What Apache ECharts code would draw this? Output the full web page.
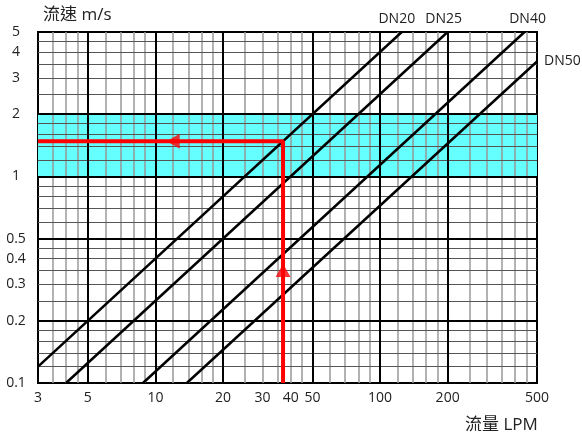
<!DOCTYPE html>
<html>
<head>
<meta charset="utf-8">
<script src="https://cdn.jsdelivr.net/npm/echarts@6/dist/echarts.min.js"></script>
<style>
  html, body { margin: 0; padding: 0; background: #fff; }
  #main { width: 582px; height: 438px; }
</style>
</head>
<body>
<div id="main"></div>
<script>
// 坐标轴刻度标签
var xTicks = [3, 5, 10, 20, 30, 40, 50, 100, 200, 500];
var yTicks = [0.1, 0.2, 0.3, 0.4, 0.5, 1, 2, 3, 4, 5];

// 网格线
var xMajor = [5, 10, 20, 50, 100, 200];
var xMinor = [3.5, 4, 4.5, 6, 7, 8, 9, 12, 14, 16, 18, 25, 30, 35, 40, 45,
  60, 70, 80, 90, 120, 140, 160, 180, 250, 300, 350, 400, 450];
var yMajor = [0.2, 0.5, 1, 2];
var yMinor = [0.12, 0.14, 0.16, 0.18, 0.25, 0.3, 0.35, 0.4, 0.45,
  0.6, 0.7, 0.8, 0.9, 1.2, 1.4, 1.6, 1.8, 2.5, 3, 3.5, 4, 4.5];

// 推荐流速范围
var bandRange = [1, 2];

// 各管径 [流量, 流速]
var dn20 = [[3, 0.12], [125, 5]];
var dn25 = [[4, 0.1], [200, 5]];
var dn40 = [[8.8, 0.1], [440, 5]];
var dn50 = [[13.8, 0.1], [500, 3.6]];

// 查表示例（红线）
var redPath = [[37, 0.1], [37, 1.48], [3, 1.48]];
var arrowUp = [37, 0.35];
var arrowLeft = [12, 1.48];

var font = "'Open Sans', 'Noto Sans CJK TC', sans-serif";
var myChart = echarts.init(document.getElementById("main"));

function vLines(list, color, width) {
  return list.map(function (v) {
    return { xAxis: v, lineStyle: { color: color, width: width, type: "solid" } };
  });
}
function hLines(list, color, width) {
  return list.map(function (v) {
    return { yAxis: v, lineStyle: { color: color, width: width, type: "solid" } };
  });
}

function dnSeries(name, pts, labelPos, offset) {
  return {
    name: name,
    type: "line",
    z: 5,
    symbol: "circle",
    symbolSize: 0,
    showSymbol: true,
    lineStyle: { color: "#000", width: 2.5 },
    itemStyle: { color: "#000" },
    data: [
      pts[0],
      {
        value: pts[1],
        label: {
          show: true,
          position: labelPos,
          distance: labelPos === "top" ? 6 : 7,
          offset: offset,
          formatter: name,
          color: "#222",
          fontSize: 14,
          fontFamily: font
        }
      }
    ]
  };
}

var option = {
  animation: false,
  title: [
    { text: "流速 m/s", left: 38, top: 2,
      textStyle: { fontSize: 17, fontWeight: "normal", color: "#222", fontFamily: font } },
    { text: "流量 LPM", left: 460, top: 412,
      textStyle: { fontSize: 17, fontWeight: "normal", color: "#222", fontFamily: font } }
  ],
  grid: {
    left: 38, right: 45, top: 32, bottom: 55,
    show: true, borderColor: "#000", borderWidth: 2, backgroundColor: "#fff"
  },
  xAxis: {
    type: "log", logBase: 10, min: 3, max: 500,
    axisLine: { show: false },
    axisTick: { show: false },
    splitLine: { show: false },
    axisLabel: {
      customValues: xTicks, margin: 8,
      color: "#222", fontSize: 14, fontFamily: font
    }
  },
  yAxis: {
    type: "log", logBase: 10, min: 0.1, max: 5,
    axisLine: { show: false },
    axisTick: { show: false },
    splitLine: { show: false },
    axisLabel: {
      customValues: yTicks, margin: 22, align: "center",
      color: "#222", fontSize: 14, fontFamily: font
    }
  },
  series: [
    {
      // 青色区域
      type: "line", z: 1, data: [], silent: true,
      markArea: {
        silent: true,
        itemStyle: { color: "#66FFFF", opacity: 1 },
        data: [[{ yAxis: bandRange[0] }, { yAxis: bandRange[1] }]]
      }
    },
    {
      // 网格
      type: "line", z: 2, data: [], silent: true,
      markLine: {
        silent: true, symbol: "none", label: { show: false }, animation: false,
        data: []
          .concat(vLines(xMinor, "#999", 1.5))
          .concat(hLines(yMinor, "#555", 1))
          .concat(vLines(xMajor, "#000", 2))
          .concat(hLines(yMajor, "#000", 2))
      }
    },
    dnSeries("DN20", dn20, "top", [-5, 0]),
    dnSeries("DN25", dn25, "top", [-4, 0]),
    dnSeries("DN40", dn40, "top", [3, 0]),
    dnSeries("DN50", dn50, "right", [0, 0]),
    {
      type: "line", z: 6, symbol: "none",
      lineStyle: { color: "#FF0000", width: 4 },
      data: redPath
    },
    {
      type: "scatter", z: 7, symbol: "triangle", symbolSize: [15, 13],
      itemStyle: { color: "#FF0000" },
      data: [
        { value: arrowUp, symbolRotate: 0 },
        { value: arrowLeft, symbolRotate: 90 }
      ]
    }
  ]
};

myChart.setOption(option);
</script>
</body>
</html>
